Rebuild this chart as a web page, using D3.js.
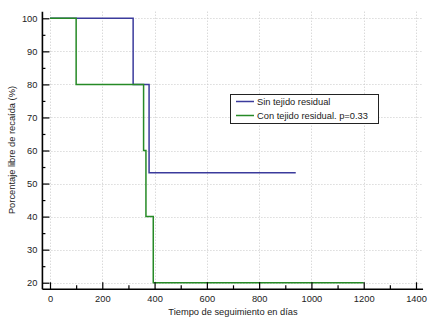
<!DOCTYPE html>
<html>
<head>
<meta charset="utf-8">
<script src="https://cdn.jsdelivr.net/npm/d3@7"></script>
<style>
  html, body { margin: 0; padding: 0; background: #fff; }
  svg { display: block; font-family: "Liberation Sans", Arial, sans-serif; }
</style>
</head>
<body>
<svg id="chart" width="437" height="328"></svg>
<script>
// Kaplan-Meier step curves: [time in days, survival %]
const sinTejido = [[0, 100], [318, 100], [318, 80], [379, 80], [379, 53.3], [940, 53.3]];
const conTejido = [[0, 100], [100, 100], [100, 80], [358, 80], [358, 60], [367, 60], [367, 40], [395, 40], [395, 20], [1200, 20]];

const seriesNames = ["Sin tejido residual", "Con tejido residual. p=0.33"];
const seriesColors = ["#3b3b9c", "#268a26"];

const xTicks = [0, 200, 400, 600, 800, 1000, 1200, 1400];
const xMinorTicks = [100, 300, 500, 700, 900, 1100, 1300];
const yTicks = [20, 30, 40, 50, 60, 70, 80, 90, 100];
const yMinorTicks = [25, 35, 45, 55, 65, 75, 85, 95];

const svg = d3.select("#chart");

const x = d3.scaleLinear().domain([0, 1400]).range([50, 416]);
const y = d3.scaleLinear().domain([20, 100]).range([282.7, 18.3]);

const axisX0 = x(-29), axisX1 = x(1427);
const axisY0 = y(18), axisY1 = y(102);

// dotted grid
const grid = svg.append("g").attr("stroke", "#c9c9c9").attr("stroke-width", 1).attr("stroke-dasharray", "1,2");
grid.selectAll("line.gx").data(xTicks).join("line")
  .attr("x1", d => Math.round(x(d)) + 0.5).attr("x2", d => Math.round(x(d)) + 0.5)
  .attr("y1", axisY1).attr("y2", axisY0);
grid.selectAll("line.gy").data(yTicks).join("line")
  .attr("y1", d => Math.round(y(d)) + 0.5).attr("y2", d => Math.round(y(d)) + 0.5)
  .attr("x1", axisX0).attr("x2", axisX1);

// curves
const line = d3.line().x(d => x(d[0])).y(d => y(d[1]));
[sinTejido, conTejido].forEach((s, i) => {
  svg.append("path").datum(s)
    .attr("d", line)
    .attr("fill", "none")
    .attr("stroke", seriesColors[i])
    .attr("stroke-width", 1.5);
});

// x axis
const gx = svg.append("g").attr("transform", `translate(0,${axisY0})`);
gx.call(d3.axisBottom(x).tickValues(xTicks).tickSize(-7).tickPadding(6).tickFormat(d3.format("d")));
gx.append("g").call(d3.axisBottom(x).tickValues(xMinorTicks).tickSize(-4).tickFormat(""));
gx.selectAll(".domain").remove();
gx.append("line").attr("x1", axisX0).attr("x2", axisX1).attr("stroke", "#000").attr("stroke-width", 1.6);

// y axis
const gy = svg.append("g").attr("transform", `translate(${axisX0},0)`);
gy.call(d3.axisLeft(y).tickValues(yTicks).tickSize(-7).tickPadding(5).tickFormat(d3.format("d")));
gy.append("g").call(d3.axisLeft(y).tickValues(yMinorTicks).tickSize(-3).tickFormat(""));
gy.selectAll(".domain").remove();
gy.append("line").attr("y1", axisY0).attr("y2", axisY1).attr("stroke", "#000").attr("stroke-width", 1.6);

svg.selectAll(".tick line").attr("stroke", "#000").attr("stroke-width", 1.2);
svg.selectAll(".tick text").attr("font-size", 9.3).attr("fill", "#222").attr("font-family", "Liberation Sans, Arial, sans-serif");

// axis titles
svg.append("text").attr("x", 233).attr("y", 315).attr("text-anchor", "middle")
  .attr("font-size", 9.3).attr("fill", "#222").text("Tiempo de seguimiento en días");
svg.append("text").attr("transform", "translate(15,150) rotate(-90)").attr("text-anchor", "middle")
  .attr("font-size", 9.3).attr("fill", "#222").text("Porcentaje libre de recaída (%)");

// legend
const lg = svg.append("g");
lg.append("rect").attr("x", 230.5).attr("y", 94.5).attr("width", 148).attr("height", 29)
  .attr("fill", "#fff").attr("stroke", "#222").attr("stroke-width", 1);
seriesNames.forEach((name, i) => {
  const cy = 101.5 + i * 14;
  lg.append("line").attr("x1", 236).attr("x2", 254).attr("y1", cy).attr("y2", cy)
    .attr("stroke", seriesColors[i]).attr("stroke-width", 1.5);
  lg.append("text").attr("x", 257).attr("y", cy + 3.3).attr("font-size", 9.3).attr("fill", "#222").text(name);
});
</script>
</body>
</html>
